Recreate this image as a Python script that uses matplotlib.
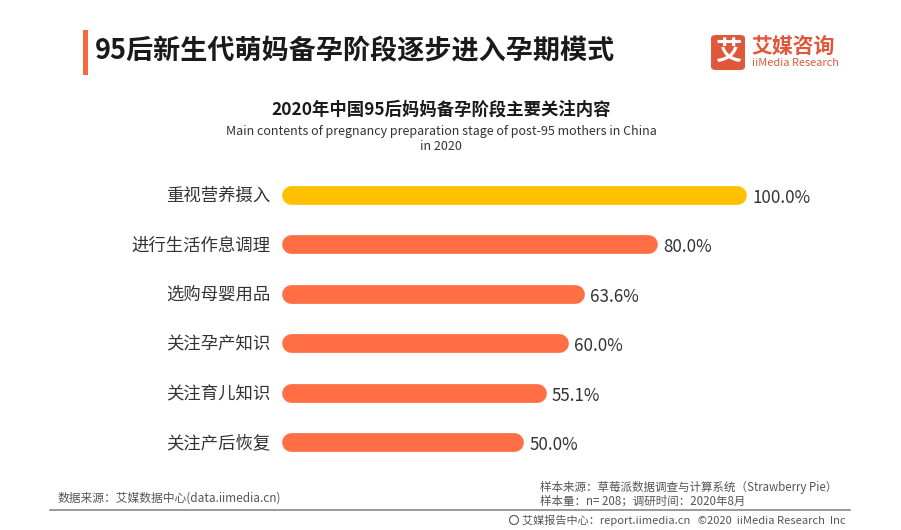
import matplotlib
matplotlib.use("Agg")
import matplotlib.pyplot as plt
from matplotlib.patches import Rectangle, FancyBboxPatch, Ellipse

plt.rcParams['font.family'] = ['Noto Sans CJK SC', 'DejaVu Sans']

categories = ["重视营养摄入", "进行生活作息调理", "选购母婴用品", "关注孕产知识", "关注育儿知识", "关注产后恢复"]
values = [100.0, 80.0, 63.6, 60.0, 55.1, 50.0]
bar_colors = ["#FFC000", "#FF6E45", "#FF6E45", "#FF6E45", "#FF6E45", "#FF6E45"]

title = "95后新生代萌妈备孕阶段逐步进入孕期模式"
chart_title = "2020年中国95后妈妈备孕阶段主要关注内容"
chart_sub = "Main contents of pregnancy preparation stage of post-95 mothers in China\nin 2020"
src_left = "数据来源：艾媒数据中心(data.iimedia.cn)"
src_right1 = "样本来源：草莓派数据调查与计算系统（Strawberry Pie）"
src_right2 = "样本量：n= 208；调研时间：2020年8月"
footer = "艾媒报告中心：report.iimedia.cn   ©2020  iiMedia Research  Inc"

W, H = 901, 530
fig = plt.figure(figsize=(W / 100, H / 100), dpi=100)
fig.patch.set_facecolor("white")

def fx(x):
    return x / W

def fy(y):
    return 1 - y / H

# title accent bar
fig.add_artist(Rectangle((fx(83), fy(75)), fx(5), 45 / H, transform=fig.transFigure,
                         color="#F26A3B", lw=0))
fig.text(fx(95), fy(51), title, fontsize=19.5, fontweight="bold", color="#1a1a1a",
         va="center", ha="left")

# logo
fig.add_artist(FancyBboxPatch((fx(711), fy(70)), 34 / W, 35 / H, transform=fig.transFigure,
                              boxstyle="round,pad=0,rounding_size=0.006",
                              facecolor="#E0583A", edgecolor="none"))
fig.text(fx(728), fy(52), "艾", fontsize=19, fontweight="bold", color="white",
         ha="center", va="center")
fig.text(fx(751), fy(46), "艾媒咨询", fontsize=15, fontweight="bold", color="#E0583A",
         ha="left", va="center")
fig.text(fx(752), fy(63), "iiMedia Research", fontsize=7.9, color="#E0583A",
         ha="left", va="center")

# chart titles
fig.text(fx(441), fy(110), chart_title, fontsize=12.5, fontweight="bold", color="#1a1a1a",
         ha="center", va="center")
fig.text(fx(441), fy(139), chart_sub, fontsize=9, color="#333333", ha="center",
         va="center", linespacing=1.25)

# axes for bars
left, right = 291, 737
top, bottom = 170, 467
ax = fig.add_axes([fx(left), fy(bottom), (right - left) / W, (bottom - top) / H])
ax.set_xlim(0, 100)
ax.set_ylim(len(categories) - 0.5, -0.5)
ax.axis("off")

for i, (v, c) in enumerate(zip(values, bar_colors)):
    ax.plot([0, v], [i, i], color=c, lw=13.5, solid_capstyle="round", clip_on=False)
    ax.annotate(f"{v:.1f}%", xy=(v, i), xytext=(11, -2), textcoords="offset points",
                ha="left", va="center", fontsize=12.2, color="#333333", annotation_clip=False)
    ax.annotate(categories[i], xy=(0, i), xytext=(-15, -1), textcoords="offset points",
                ha="right", va="center", fontsize=12.5, color="#333333", annotation_clip=False)

# footer
fig.text(fx(58), fy(498), src_left, fontsize=8.5, color="#555555", ha="left", va="center")
fig.text(fx(540), fy(487), src_right1, fontsize=8.3, color="#555555", ha="left", va="center")
fig.text(fx(540), fy(501), src_right2, fontsize=8.3, color="#555555", ha="left", va="center")
fig.add_artist(plt.Line2D([fx(50), fx(850)], [fy(510), fy(510)], transform=fig.transFigure,
                          color="#888888", lw=1.2))
fig.text(fx(522), fy(520), footer, fontsize=8, color="#555555", ha="left", va="center")
fig.add_artist(Ellipse((fx(514), fy(520)), 9 / W, 9 / H, transform=fig.transFigure,
                       fill=False, ec="#555555", lw=0.8))

fig.savefig("out.png", dpi=100, facecolor="white")
